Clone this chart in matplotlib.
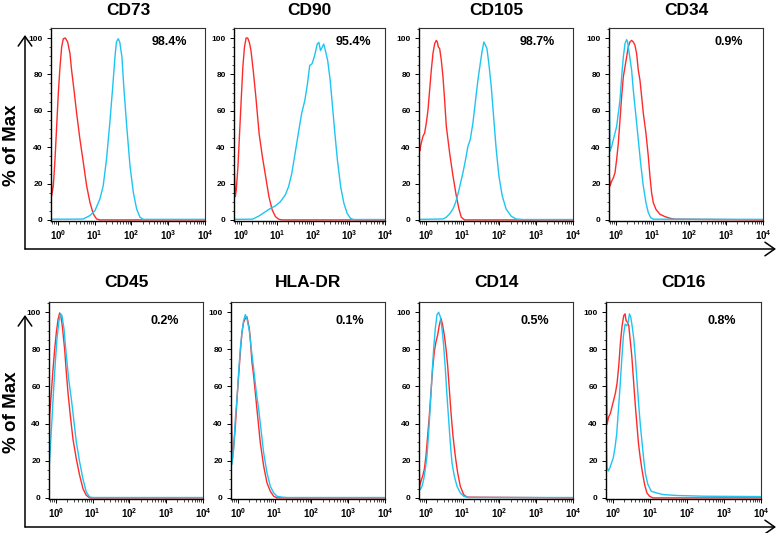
import numpy as np
import matplotlib
matplotlib.use("Agg")
import matplotlib.pyplot as plt
from matplotlib.ticker import LogLocator, MultipleLocator, FuncFormatter
from matplotlib.patches import FancyArrowPatch

plt.rcParams['font.family'] = ['Liberation Sans', 'DejaVu Sans']
plt.rcParams['mathtext.fontset'] = 'custom'
plt.rcParams['mathtext.rm'] = 'Liberation Sans:bold'
plt.rcParams['mathtext.bf'] = 'Liberation Sans:bold'

# markers and % positive
titles = ["CD73", "CD90", "CD105", "CD34", "CD45", "HLA-DR", "CD14", "CD16"]
percents = ["98.4%", "95.4%", "98.7%", "0.9%", "0.2%", "0.1%", "0.5%", "0.8%"]

# histograms: x in log10 units, y in % of max
# red = isotype control, blue = stained sample
cd73_red_x = [-0.19, -0.172, -0.127, -0.081, -0.036, 0.009, 0.055, 0.10, 0.145, 0.20, 0.263, 0.326, 0.37,
              0.435, 0.507, 0.598, 0.69, 0.78, 0.87, 0.96, 1.05, 1.14, 2.5, 4.0]
cd73_red_y = [31.5, 13.3, 18.7, 33.3, 51.5, 69.6, 84.2, 95.1, 99.6, 100, 97.8, 91.5, 82.4,
              71.5, 58.7, 44.2, 31.5, 18.7, 9.6, 3.3, 0.5, 0, 0, 0]
cd73_blue_x = [-0.19, 0.4, 0.69, 0.87, 1.006, 1.14, 1.23, 1.32, 1.41, 1.49, 1.55, 1.59, 1.64, 1.68, 1.74,
               1.79, 1.87, 1.96, 2.05, 2.14, 2.23, 2.32, 3.0, 4.0]
cd73_blue_y = [0.4, 0.4, 0.5, 2.4, 5.1, 11.5, 18.7, 33.3, 53.3, 73.3, 89.6, 97.8, 99.6, 97.8, 89.6,
               73.3, 51.5, 29.6, 15.1, 6, 1.5, 0.3, 0.3, 0.3]

cd90_red_x = [-0.19, -0.154, -0.127, -0.081, -0.036, 0.009, 0.055, 0.10, 0.145, 0.19, 0.236, 0.281, 0.344,
              0.417, 0.507, 0.598, 0.689, 0.779, 0.87, 0.96, 1.05, 1.14, 4.0]
cd90_red_y = [31.9, 12.8, 16.4, 29.2, 47.4, 65.7, 83.9, 94.9, 100, 100, 97.6, 93.1, 82.1,
              67.5, 47.4, 34.7, 23.7, 12.8, 5.5, 1.8, 0.4, 0, 0]
cd90_blue_x = [-0.19, 0.326, 0.507, 0.689, 0.824, 0.96, 1.096, 1.232, 1.323, 1.413, 1.504, 1.594, 1.685,
               1.776, 1.848, 1.911, 1.975, 2.047, 2.12, 2.165, 2.21, 2.256, 2.30, 2.346, 2.41, 2.48,
               2.545, 2.61, 2.68, 2.77, 2.86, 2.95, 3.04, 3.13, 4.0]
cd90_blue_y = [0.3, 0.4, 2.2, 4.6, 6.4, 7.7, 10, 13.7, 18.2, 25.5, 36.5, 47.4, 58.4,
               65.7, 74.8, 84.9, 85.8, 90.3, 96.7, 97.6, 93.1, 94.9, 96.7, 93.1, 87.6, 76.6,
               62, 47.4, 32.8, 18.2, 9.1, 3.6, 0.9, 0.2, 0.2]

cd105_red_x = [-0.19, -0.18, -0.172, -0.127, -0.081, -0.036, 0.009, 0.055, 0.10, 0.145, 0.19, 0.236, 0.281,
               0.308, 0.335, 0.372, 0.417, 0.462, 0.507, 0.553, 0.643, 0.734, 0.824, 0.897, 0.96, 1.05, 4.0]
cd105_red_y = [88, 40, 37.8, 42.4, 46, 47.8, 53.3, 60.5, 71.5, 82.4, 91.5, 96.9, 98.7,
               97.8, 95.1, 94.2, 87.8, 78.7, 66, 51.5, 36.9, 24.2, 13.3, 6, 1.5, 0, 0]
cd105_blue_x = [-0.19, 0.462, 0.553, 0.643, 0.734, 0.806, 0.87, 0.933, 1.006, 1.078, 1.142, 1.205, 1.277,
                1.35, 1.413, 1.477, 1.531, 1.576, 1.62, 1.658, 1.71, 1.776, 1.839, 1.911, 1.984, 2.074,
                2.18, 2.32, 2.455, 2.636, 4.0]
cd105_blue_y = [0.3, 0.5, 1.5, 3.3, 6, 9.6, 14.2, 19.6, 26, 33.3, 40.5, 44.2, 53.3,
                66, 76.9, 86, 93.3, 97.8, 96, 94.2, 86, 73.3, 56.9, 38.7, 24.2, 13.3,
                6, 2, 0.5, 0.2, 0.2]

cd34_red_x = [-0.19, -0.163, -0.118, -0.072, -0.027, 0.018, 0.064, 0.109, 0.154, 0.2, 0.245, 0.29, 0.335,
              0.38, 0.426, 0.471, 0.516, 0.562, 0.607, 0.652, 0.698, 0.743, 0.815, 0.879, 0.924, 0.969,
              1.015, 1.087, 1.196, 1.332, 1.468, 1.603, 4.0]
cd34_red_y = [27.7, 18.6, 21.3, 23.1, 25.9, 33.2, 42.3, 55, 67.8, 78.7, 84.2, 89.6, 95.1,
              97.8, 98.7, 97.8, 96, 91.4, 82.3, 76.9, 67.8, 58.7, 47.7, 35, 24, 14.9,
              9.5, 5.8, 3.1, 1.8, 0.9, 0.4, 0]
cd34_blue_x = [-0.19, -0.163, -0.118, -0.072, -0.027, 0.018, 0.064, 0.109, 0.154, 0.2, 0.245, 0.29, 0.317,
               0.362, 0.426, 0.471, 0.544, 0.607, 0.67, 0.743, 0.815, 0.879, 0.942, 1.015, 4.0]
cd34_blue_y = [88.7, 37.7, 40.4, 44.1, 47.7, 51.4, 58.7, 65.9, 78.7, 89.6, 96.9, 99.1, 97.8,
               91.4, 82.3, 71.4, 56.8, 44.1, 31.3, 18.6, 9.5, 4, 1.3, 0.4, 0.3]

cd45_red_x = [-0.19, -0.172, -0.127, -0.081, -0.036, 0.009, 0.055, 0.10, 0.127, 0.172, 0.236, 0.281, 0.326,
              0.39, 0.462, 0.553, 0.643, 0.734, 0.824, 0.915, 4.0]
cd45_red_y = [17.6, 44.1, 56.6, 69.2, 79.9, 88.9, 96, 99.6, 98.7, 92.5, 80, 67.6, 56.8,
              44.3, 31.7, 21, 12.2, 5, 1.4, 0, 0]
cd45_blue_x = [-0.19, -0.154, -0.108, -0.063, -0.018, 0.027, 0.082, 0.127, 0.163, 0.218, 0.281, 0.344,
               0.417, 0.48, 0.553, 0.643, 0.734, 0.824, 0.915, 1.006, 4.0]
cd45_blue_y = [14.9, 26.5, 42.7, 58.8, 73.1, 85.7, 95.5, 99.1, 98.2, 91, 76.7, 64.2,
               53.4, 42.7, 30.1, 19.4, 10.2, 3.2, 0.5, 0.2, 0.2]

hladr_red_x = [-0.19, -0.154, -0.118, -0.072, -0.027, 0.018, 0.064, 0.109, 0.154, 0.2, 0.245, 0.272, 0.308,
               0.335, 0.38, 0.426, 0.471, 0.516, 0.562, 0.607, 0.698, 0.788, 0.879, 0.97, 1.06, 4.0]
hladr_red_y = [59.7, 20.3, 27.5, 38.3, 53.3, 65.8, 78.5, 89.3, 94.7, 96.6, 97.5, 94.8, 91.1,
               85.7, 73.1, 65.8, 56.8, 47.7, 38.7, 29.7, 17.2, 8.1, 3.6, 0.9, 0, 0]
hladr_blue_x = [-0.19, -0.163, -0.118, -0.072, -0.027, 0.018, 0.064, 0.109, 0.154, 0.2, 0.245, 0.308,
                0.362, 0.426, 0.498, 0.562, 0.625, 0.698, 0.788, 0.879, 0.97, 1.06, 1.196, 1.33, 4.0]
hladr_blue_y = [49.7, 18.1, 26.2, 42.5, 53.3, 67.8, 80.5, 89.3, 95.6, 98.7, 96.4, 90.1,
                80.3, 69.6, 56.9, 47.9, 37, 24.4, 13.6, 6.3, 2.7, 0.9, 0.4, 0.2, 0.2]

cd14_red_x = [-0.19, -0.172, -0.136, -0.09, -0.045, 0.0, 0.046, 0.091, 0.136, 0.181, 0.227, 0.272, 0.317,
              0.363, 0.408, 0.453, 0.498, 0.544, 0.589, 0.634, 0.68, 0.734, 0.797, 0.861, 0.933, 1.024,
              1.114, 4.0]
cd14_red_y = [27.1, 6.3, 9, 11.8, 15.4, 22.6, 33.5, 44.3, 57, 69.6, 78.7, 84.1, 87.7,
              93.1, 96.7, 93.1, 87.7, 80.5, 71.4, 58.8, 46.1, 33.5, 22.6, 13.6, 6.3, 1.8,
              0.4, 0]
cd14_blue_x = [-0.19, -0.154, -0.108, -0.063, -0.018, 0.027, 0.073, 0.118, 0.163, 0.209, 0.254, 0.299,
               0.344, 0.39, 0.435, 0.48, 0.526, 0.571, 0.616, 0.661, 0.707, 0.77, 0.843, 0.933, 1.024,
               1.16, 4.0]
cd14_blue_y = [7.2, 4.5, 6.3, 9.9, 15.4, 22.6, 35.3, 49.7, 66, 80.5, 91.3, 98.6,
               100, 97.6, 91.3, 82.3, 69.6, 55.2, 42.5, 29.8, 19, 11.8, 6.3, 2.7, 0.9,
               0.2, 0.2]

cd16_red_x = [-0.19, -0.163, -0.118, -0.072, -0.027, 0.018, 0.064, 0.109, 0.154, 0.2, 0.245, 0.29, 0.326,
              0.353, 0.39, 0.426, 0.462, 0.507, 0.553, 0.598, 0.643, 0.689, 0.734, 0.788, 0.852, 0.915,
              0.987, 1.078, 4.0]
cd16_red_y = [88.2, 39.5, 43.6, 45.5, 49.1, 52.7, 56.4, 61.8, 70.9, 83.6, 92.7, 98.2, 99.1,
              95.5, 94.5, 92.7, 85.5, 76.4, 63.6, 50.9, 40, 29.1, 21.8, 14.5, 7.3, 2.7,
              0.9, 0, 0]
cd16_blue_x = [-0.19, -0.163, -0.127, -0.081, -0.036, 0.009, 0.055, 0.10, 0.145, 0.19, 0.236, 0.281,
               0.326, 0.372, 0.408, 0.444, 0.48, 0.516, 0.562, 0.607, 0.652, 0.698, 0.743, 0.788,
               0.834, 0.879, 0.942, 1.033, 1.17, 1.35, 1.71, 2.44, 4.0]
cd16_blue_y = [40, 16.4, 14.5, 16.4, 19.1, 21.8, 27.3, 34.5, 47.3, 60, 74.5, 87.3,
               93.6, 92.7, 94.5, 99.1, 97.3, 92.7, 85.5, 74.5, 61.8, 49.1, 38.2, 29.1,
               20, 12.7, 7.3, 3.6, 2.7, 1.8, 1.3, 0.9, 0.7]

red_curves = [(cd73_red_x, cd73_red_y), (cd90_red_x, cd90_red_y), (cd105_red_x, cd105_red_y),
              (cd34_red_x, cd34_red_y), (cd45_red_x, cd45_red_y), (hladr_red_x, hladr_red_y),
              (cd14_red_x, cd14_red_y), (cd16_red_x, cd16_red_y)]
blue_curves = [(cd73_blue_x, cd73_blue_y), (cd90_blue_x, cd90_blue_y), (cd105_blue_x, cd105_blue_y),
               (cd34_blue_x, cd34_blue_y), (cd45_blue_x, cd45_blue_y), (hladr_blue_x, hladr_blue_y),
               (cd14_blue_x, cd14_blue_y), (cd16_blue_x, cd16_blue_y)]

W, H = 777, 533
fig = plt.figure(figsize=(W / 100, H / 100), dpi=100)

# panel boxes in pixels
panel_left = [[51, 234, 419, 609], [49, 231, 419, 606]]
panel_width = [[154, 151, 154, 154], [154, 154, 154, 155]]
row_top = [28, 302]
row_height = [193, 197]
title_pad = [9.5, 10.5]
pct_y = [0.93, 0.905]
pct_x = [[0.77, 0.79, 0.77, 0.78], [0.75, 0.77, 0.75, 0.75]]

RED = '#ff2a2a'
BLUE = '#1ec4f2'


def log_label(v, pos):
    return r"$10^{%d}$" % int(round(np.log10(v)))


for i in range(8):
    row, col = i // 4, i % 4
    l = panel_left[row][col]
    w = panel_width[row][col]
    t = row_top[row]
    h = row_height[row]
    ax = fig.add_axes([l / W, 1 - (t + h) / H, w / W, h / H])

    rx, ry = red_curves[i]
    bx, by = blue_curves[i]
    ax.plot(10 ** np.array(rx), ry, color=RED, lw=1.0)
    ax.plot(10 ** np.array(bx), by, color=BLUE, lw=1.0)

    ax.set_xscale('log')
    ax.set_xlim(10 ** -0.19, 1e4)
    ax.set_ylim(-0.6, 105.5)

    ax.set_xticks([1, 10, 100, 1000, 10000])
    ax.xaxis.set_major_formatter(FuncFormatter(log_label))
    ax.xaxis.set_minor_locator(LogLocator(base=10, subs=np.arange(2, 10)))
    ax.xaxis.set_minor_formatter(FuncFormatter(lambda v, p: ""))
    ax.set_yticks([0, 20, 40, 60, 80, 100])
    ax.yaxis.set_minor_locator(MultipleLocator(5))

    ax.tick_params(axis='x', which='major', length=3, width=0.7, labelsize=7, pad=2.5)
    ax.tick_params(axis='y', which='major', length=3, width=0.7, labelsize=6, pad=3)
    ax.tick_params(axis='both', which='minor', length=1.8, width=0.5)
    for lab in ax.get_yticklabels():
        lab.set_fontweight('bold')

    for side in ['left', 'bottom']:
        ax.spines[side].set_linewidth(1.0)
    for side in ['top', 'right']:
        ax.spines[side].set_linewidth(0.8)
        ax.spines[side].set_color('#333333')

    ax.set_title(titles[i], fontsize=12.5, fontweight='bold', pad=title_pad[row])
    ax.text(pct_x[row][col], pct_y[row], percents[i], transform=ax.transAxes,
            ha='center', va='center', fontsize=9, fontweight='bold')

# shared "% of Max" labels
fig.text(12 / W, 1 - 145 / H, "% of Max", rotation=90, fontsize=13.5, fontweight='bold',
         ha='center', va='center')
fig.text(12 / W, 1 - 412 / H, "% of Max", rotation=90, fontsize=13.5, fontweight='bold',
         ha='center', va='center')

# L-shaped arrows framing each row
arrow_rows = [(249, 35), (527, 315)]
for base, tip in arrow_rows:
    yb = 1 - base / H
    fig.add_artist(FancyArrowPatch((25 / W, yb), (25 / W, 1 - tip / H), transform=fig.transFigure,
                                   arrowstyle='->,head_length=0.5,head_width=0.35', mutation_scale=14,
                                   lw=1.1, color='black', shrinkA=0, shrinkB=0))
    fig.add_artist(FancyArrowPatch((25 / W, yb), (776 / W, yb), transform=fig.transFigure,
                                   arrowstyle='->,head_length=0.5,head_width=0.35', mutation_scale=14,
                                   lw=1.1, color='black', shrinkA=0, shrinkB=0))

fig.savefig("out.png", dpi=100)
